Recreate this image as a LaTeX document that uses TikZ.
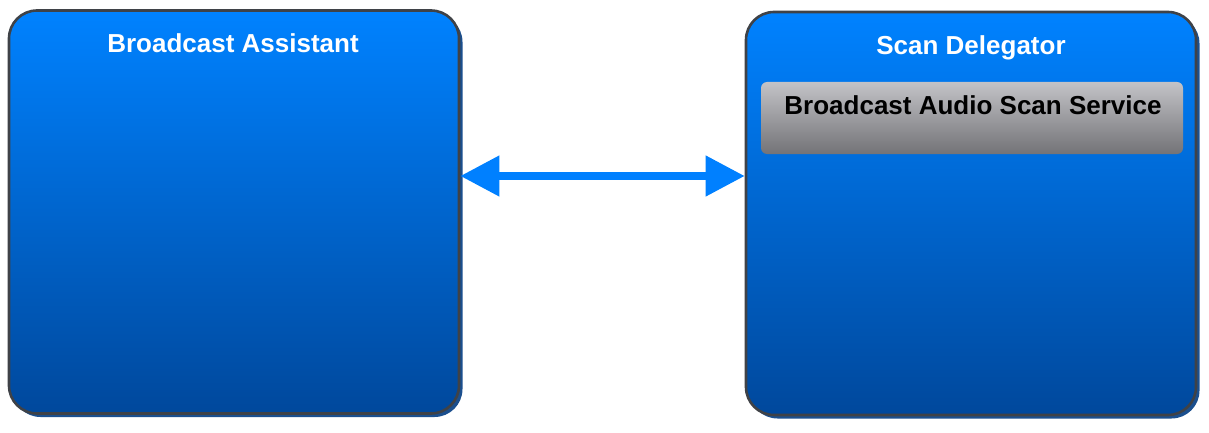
\documentclass[tikz,border=0pt]{standalone}
\usepackage{fontspec}
\setmainfont{Liberation Sans}
\usetikzlibrary{arrows.meta,positioning,shadows}

\definecolor{boxtop}{HTML}{0082FF}
\definecolor{boxbot}{HTML}{00489C}
\definecolor{boxrim}{HTML}{3F4247}
\definecolor{boxshade}{HTML}{1B4F8E}
\definecolor{svctop}{HTML}{C3C3C7}
\definecolor{svcbot}{HTML}{737377}
\definecolor{arrblue}{HTML}{0080FF}

\begin{document}
\begin{tikzpicture}[x=1pt, y=1pt,
  panel/.style={draw=boxrim, line width=2.6pt, rounded corners=28pt,
                top color=boxtop, bottom color=boxbot,
                minimum width=450pt, minimum height=403pt, inner sep=0pt,
                drop shadow={shadow xshift=3.5pt, shadow yshift=-3.5pt,
                             fill=boxshade, opacity=1}},
  ttl/.style={font=\fontsize{26}{30}\selectfont\bfseries, text=white,
              anchor=base, inner sep=0pt},
  svc/.style={rounded corners=6pt, top color=svctop, bottom color=svcbot,
              minimum width=422pt, minimum height=72pt, inner sep=0pt},
  svctxt/.style={font=\fontsize{26}{30}\selectfont\bfseries, text=black,
                 anchor=base, inner sep=0pt},
  arr/.style={{Triangle[length=39pt,width=39pt]}-{Triangle[length=39pt,width=39pt]},
              arrblue, line width=7.5pt},
]
\useasboundingbox (0,0) rectangle (1209,-433);

% --- Broadcast Assistant ---
\node[panel] (ba) at (234,-212) {};
\node[ttl] (bat) at (233,-53) {Broadcast Assistant};

% --- Scan Delegator ---
\node[panel] (sd) at (971,-213.5) {};
\node[ttl] (sdt) at (971,-55) {Scan Delegator};
\node[svc] (bass) at (972,-118) {};
\node[svctxt] (basst) at (973,-115) {Broadcast Audio Scan Service};

% --- link ---
\coordinate (lvl) at (0,-176);
\draw[arr] (ba.east |- lvl) -- (sd.west |- lvl);
\end{tikzpicture}
\end{document}
